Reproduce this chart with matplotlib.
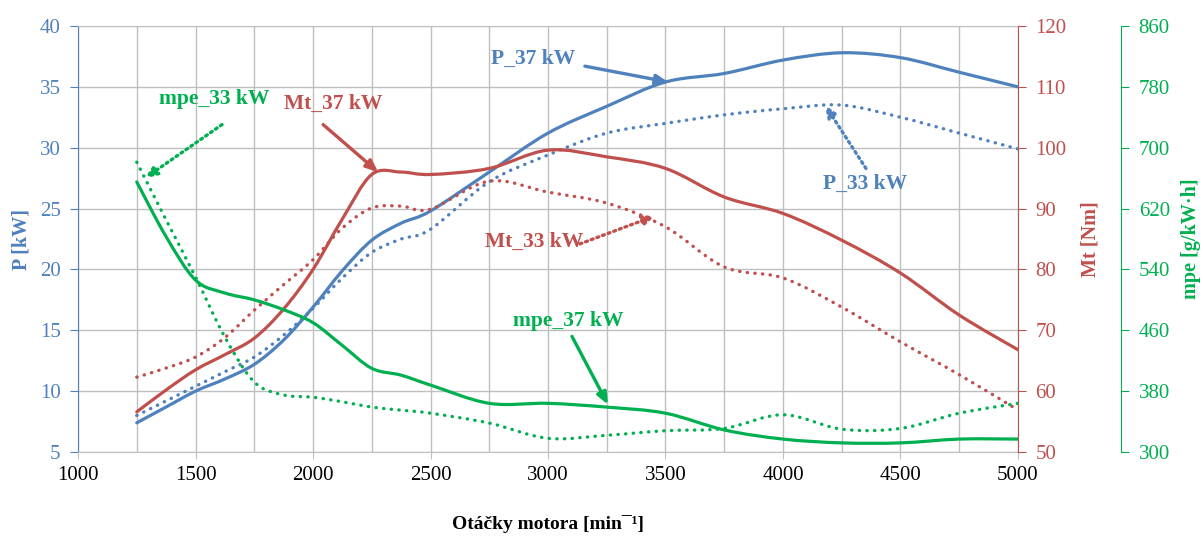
import matplotlib
matplotlib.use('Agg')
import matplotlib.pyplot as plt
from matplotlib.path import Path
from matplotlib.patches import PathPatch

plt.rcParams['font.family'] = ['Liberation Serif', 'DejaVu Serif']

# engine speed [min^-1]
rpm = [1250, 1375, 1500, 1625, 1750, 1875, 2000, 2125, 2250, 2375, 2500,
       2750, 3000, 3250, 3500, 3750, 4000, 4250, 4500, 4750, 5000]

# power [kW]
p_37 = [7.4, 8.7, 10.0, 11.0, 12.2, 14.2, 16.9, 19.9, 22.4, 23.8, 24.8,
        28.0, 31.2, 33.4, 35.4, 36.1, 37.2, 37.8, 37.4, 36.2, 35.0]
p_33 = [8.0, 9.2, 10.4, 11.6, 12.8, 14.6, 16.8, 19.3, 21.4, 22.5, 23.3,
        27.2, 29.4, 31.2, 32.0, 32.7, 33.2, 33.5, 32.5, 31.2, 29.9]

# torque [Nm]
mt_37 = [56.6, 60.2, 63.5, 66.0, 68.7, 73.5, 80.0, 88.3, 95.6, 96.0, 95.6,
         96.6, 99.6, 98.5, 96.6, 91.9, 89.2, 84.8, 79.4, 72.5, 66.8]
mt_33 = [62.3, 63.8, 65.6, 68.8, 73.3, 77.5, 81.6, 86.8, 90.1, 90.4, 89.9,
         94.5, 92.7, 90.9, 87.0, 80.4, 78.6, 73.8, 68.1, 62.7, 56.9]

# specific fuel consumption [g/kW.h]
mpe_37 = [655, 583, 526, 509, 500, 487, 470, 440, 410, 401, 388,
          364, 364, 359, 351, 329, 317, 312, 312, 317, 317]
mpe_33 = [681, 605, 530, 451, 392, 375, 372, 366, 359, 355, 351,
          338, 318, 322, 328, 331, 349, 330, 331, 351, 364]

blue = '#4F81BD'
red = '#C0504D'
green = '#00B050'
grid_c = '#BFBFBF'
dots = (0, (0.1, 2.2))


def smooth_line(axis, x, y, **kw):
    # Excel-like smoothed line: Bezier segments through the data points
    n = len(x)
    verts = [(x[0], y[0])]
    codes = [Path.MOVETO]
    for i in range(n - 1):
        i0 = max(i - 1, 0)
        i3 = min(i + 2, n - 1)
        c1 = (x[i] + (x[i + 1] - x[i0]) / 6, y[i] + (y[i + 1] - y[i0]) / 6)
        c2 = (x[i + 1] - (x[i3] - x[i]) / 6, y[i + 1] - (y[i3] - y[i]) / 6)
        verts += [c1, c2, (x[i + 1], y[i + 1])]
        codes += [Path.CURVE4] * 3
    patch = PathPatch(Path(verts, codes), fill=False, capstyle='round',
                      joinstyle='round', **kw)
    axis.add_patch(patch)


fig, ax = plt.subplots(figsize=(12.04, 5.36), dpi=100)
fig.subplots_adjust(left=0.0648, right=0.8455, top=0.9515, bottom=0.1567)
ax2 = ax.twinx()
ax3 = ax.twinx()
ax3.spines['right'].set_position(('axes', 1.11))

# curves
smooth_line(ax, rpm, p_37, edgecolor=blue, lw=2.3)
smooth_line(ax, rpm, p_33, edgecolor=blue, lw=2.4, linestyle=dots)
smooth_line(ax2, rpm, mt_37, edgecolor=red, lw=2.3)
smooth_line(ax2, rpm, mt_33, edgecolor=red, lw=2.4, linestyle=dots)
smooth_line(ax3, rpm, mpe_37, edgecolor=green, lw=2.3)
smooth_line(ax3, rpm, mpe_33, edgecolor=green, lw=2.4, linestyle=dots)

# axes limits and ticks
ax.set_xlim(1000, 5000)
ax.set_ylim(5, 40)
ax2.set_ylim(50, 120)
ax3.set_ylim(300, 860)
ax.set_xticks(range(1000, 5001, 500))
ax.set_xticks(range(1000, 5001, 250), minor=True)
ax.set_yticks(range(5, 41, 5))
ax2.set_yticks(range(50, 121, 10))
ax3.set_yticks(range(300, 861, 80))

ax.grid(True, which='both', axis='x', color=grid_c, lw=1)
ax.grid(True, which='major', axis='y', color=grid_c, lw=1)
ax.set_axisbelow(True)

ax.tick_params(axis='x', which='major', length=5, color=grid_c, labelsize=15, pad=5)
ax.tick_params(axis='x', which='minor', length=0)
ax.tick_params(axis='y', colors=blue, length=5.5, labelsize=15, pad=7)
ax2.tick_params(axis='y', colors=red, length=5.5, labelsize=15, pad=7)
ax3.tick_params(axis='y', colors=green, length=5.5, labelsize=15, pad=7)

ax.spines['left'].set_color(blue)
ax.spines['bottom'].set_color(grid_c)
ax.spines['top'].set_color(grid_c)
ax.spines['right'].set_visible(False)
for a in (ax2, ax3):
    for s in ('left', 'top', 'bottom'):
        a.spines[s].set_visible(False)
ax2.spines['right'].set_color(red)
ax3.spines['right'].set_color(green)

ax.set_xlabel('Otáčky motora [min¯¹]', fontsize=14, fontweight='bold', labelpad=22)
ax.set_ylabel('P [kW]', fontsize=14.5, fontweight='bold', color=blue, labelpad=6)
ax2.set_ylabel('Mt [Nm]', fontsize=14.5, fontweight='bold', color=red, labelpad=10)
ax3.set_ylabel('mpe [g/kW·h]', fontsize=14.5, fontweight='bold', color=green, labelpad=8)

# labels with arrows (positions in rpm / P coordinates)
notes = [
    ('P_37 kW', (2936, 37.3), (3157, 36.7), (3511, 35.4), blue, '-'),
    ('P_33 kW', (4349, 27.0), (4353, 28.3), (4179, 33.5), blue, ':'),
    ('Mt_37 kW', (2085, 33.6), (2043, 31.9), (2277, 28.0), red, '-'),
    ('Mt_33 kW', (2940, 22.3), (3136, 22.1), (3455, 24.4), red, ':'),
    ('mpe_33 kW', (1579, 34.0), (1613, 31.9), (1285, 27.5), green, ':'),
    ('mpe_37 kW', (3085, 15.8), (3102, 14.5), (3255, 8.9), green, '-'),
]
for label, tpos, start, end, col, style in notes:
    ax3.text(tpos[0], tpos[1], label, transform=ax.transData, color=col,
             fontsize=15.5, fontweight='bold', ha='center', va='center')
    ax3.annotate('', xy=end, xytext=start, xycoords=ax.transData,
                 textcoords=ax.transData,
                 arrowprops=dict(arrowstyle='-|>,head_length=0.7,head_width=0.3',
                                 color=col, lw=2.4,
                                 linestyle=(0, (0.6, 1.2)) if style == ':' else '-',
                                 shrinkA=0, shrinkB=0))

fig.savefig('out.png', dpi=100)
